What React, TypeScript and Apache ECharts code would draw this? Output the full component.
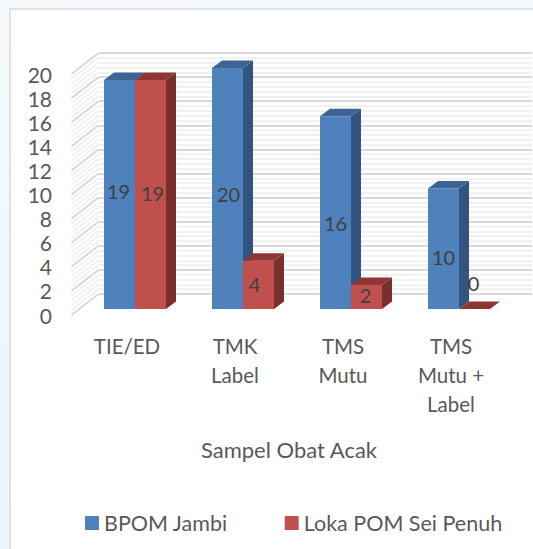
import React, { useEffect, useRef } from "react";
import * as echarts from "echarts";

const categories = ["TIE/ED", "TMK\nLabel", "TMS\nMutu", "TMS\nMutu +\nLabel"];
const bpomJambi = [19, 20, 16, 10];
const lokaPom = [19, 4, 2, 0];
const majorTicks = [0, 2, 4, 6, 8, 10, 12, 14, 16, 18, 20];

const FONT = "Lato, 'Open Sans', sans-serif";
const DEPTH_X = 10;
const DEPTH_Y = 7.5;
const WALL_X = 27;
const WALL_Y = 21;
const WALL_INSET = -1.5;
const BAR_W = 31;
const labelNudgeBlue = [[-1, -4], [1, 5], [0, 10], [0, 8]];
const labelNudgeRed = [[2, -2], [-4, -1], [-1, -2], [-1, -26]];

function barRenderer(seriesIndex: number, front: string, side: string, top: string, nudges: number[][]) {
  return (params: any, api: any) => {
    const i = api.value(0);
    const v = api.value(1);
    const [cx, y0] = api.coord([i, 0]);
    const [, y1] = api.coord([i, v]);
    const x0 = cx + (seriesIndex === 0 ? -BAR_W : 0);
    const x1 = x0 + BAR_W;
    const n = nudges[params.dataIndex];
    const children: any[] = [
      {
        type: "polygon",
        shape: { points: [[x1, y0], [x1 + DEPTH_X, y0 - DEPTH_Y], [x1 + DEPTH_X, y1 - DEPTH_Y], [x1, y1]] },
        style: { fill: side },
      },
      {
        type: "polygon",
        shape: { points: [[x0, y1], [x0 + DEPTH_X, y1 - DEPTH_Y], [x1 + DEPTH_X, y1 - DEPTH_Y], [x1, y1]] },
        style: { fill: top },
      },
      {
        type: "rect",
        shape: { x: x0, y: y1, width: BAR_W, height: y0 - y1 },
        style: { fill: front },
      },
      {
        type: "text",
        x: x0 + BAR_W / 2 + n[0],
        y: (y0 + y1) / 2 + n[1],
        style: {
          text: String(v),
          fill: "#404040",
          font: `20px ${FONT}`,
          align: "center",
          verticalAlign: "middle",
        },
      },
    ];
    return { type: "group", children };
  };
}

function leftWallRenderer(color: string, width: number) {
  return (_p: any, api: any) => {
    const [, y] = api.coord([0, api.value(0)]);
    const left = api.coord([0, 0])[0] - api.size([1, 0])[0] / 2 + WALL_INSET;
    return {
      type: "line",
      shape: { x1: left, y1: y, x2: left + WALL_X, y2: y - WALL_Y },
      style: { stroke: color, lineWidth: width },
    };
  };
}

const minorTicks: number[] = [];
majorTicks.slice(0, -1).forEach((t) => {
  [0.4, 0.8, 1.2, 1.6].forEach((d) => minorTicks.push(t + d));
});

const App: React.FC = () => {
  const ref = useRef<HTMLDivElement>(null);
  useEffect(() => {
    if (!ref.current) return;
    const chart = echarts.init(ref.current, undefined, { renderer: "svg" });
    const hiddenCat = {
      type: "category",
      data: categories,
      axisLine: { show: false },
      axisTick: { show: false },
      axisLabel: { show: false },
    };
    const hiddenVal = {
      type: "value",
      min: 0,
      max: 20,
      interval: 2,
      axisLine: { show: false },
      axisTick: { show: false },
      axisLabel: { show: false },
      splitLine: { show: false },
    };
    chart.setOption({
      animation: false,
      grid: [
        { left: 73, width: 432, top: 74, height: 241 },
        { left: 81, width: 432, top: 68, height: 241 },
        { left: 99, width: 433, top: 53, height: 241 },
      ],
      legend: {
        data: ["BPOM Jambi", "Loka POM Sei Penuh"],
        left: 80,
        top: 507,
        icon: "rect",
        itemWidth: 14,
        itemHeight: 14,
        itemGap: 57,
        textStyle: { fontFamily: FONT, fontSize: 21.5, color: "#595959" },
      },
      xAxis: [
        {
          type: "category",
          gridIndex: 0,
          data: categories,
          axisLine: { show: false },
          axisTick: { show: false },
          axisLabel: {
            margin: 16,
            interval: 0,
            fontFamily: FONT,
            fontSize: 20.5,
            lineHeight: 29,
            color: "#595959",
          },
          name: "Sampel Obat Acak",
          nameLocation: "middle",
          nameGap: 123,
          nameTextStyle: { fontFamily: FONT, fontSize: 22, color: "#595959" },
        },
        { ...hiddenCat, gridIndex: 1 },
        { ...hiddenCat, gridIndex: 2 },
      ],
      yAxis: [
        {
          type: "value",
          gridIndex: 0,
          min: 0,
          max: 20,
          interval: 2,
          axisLine: { show: false },
          axisTick: { show: false },
          splitLine: { show: false },
          axisLabel: { margin: 21, fontFamily: FONT, fontSize: 21, color: "#595959" },
        },
        { ...hiddenVal, gridIndex: 1 },
        {
          ...hiddenVal,
          gridIndex: 2,
          splitLine: { show: true, lineStyle: { color: "#d9d9d9", width: 2 } },
          minorTick: { show: false, splitNumber: 5 },
          minorSplitLine: { show: true, lineStyle: { color: "#f1f1f1", width: 2 } },
        },
      ],
      series: [
        {
          type: "custom",
          name: "wall-minor",
          xAxisIndex: 0,
          yAxisIndex: 0,
          clip: false,
          silent: true,
          z: 1,
          data: minorTicks.map((t) => [t]),
          encode: { y: 0 },
          renderItem: leftWallRenderer("#f1f1f1", 2),
        },
        {
          type: "custom",
          name: "wall-major",
          xAxisIndex: 0,
          yAxisIndex: 0,
          clip: false,
          silent: true,
          z: 1,
          data: majorTicks.map((t) => [t]),
          encode: { y: 0 },
          renderItem: leftWallRenderer("#d9d9d9", 2),
        },
        {
          type: "custom",
          name: "BPOM Jambi",
          xAxisIndex: 1,
          yAxisIndex: 1,
          clip: false,
          z: 3,
          itemStyle: { color: "#4f81bd" },
          data: bpomJambi.map((v, i) => [i, v]),
          encode: { x: 0, y: 1 },
          renderItem: barRenderer(0, "#4f81bd", "#32547e", "#3d6593", labelNudgeBlue),
        },
        {
          type: "custom",
          name: "Loka POM Sei Penuh",
          xAxisIndex: 1,
          yAxisIndex: 1,
          clip: false,
          z: 4,
          itemStyle: { color: "#c0504d" },
          data: lokaPom.map((v, i) => [i, v]),
          encode: { x: 0, y: 1 },
          renderItem: barRenderer(1, "#c0504d", "#7a2f2d", "#8c3735", labelNudgeRed),
        },
      ],
    });
    return () => chart.dispose();
  }, []);

  return (
    <div
      style={{
        position: "fixed",
        left: 0,
        top: 0,
        width: 533,
        height: 549,
        overflow: "hidden",
        background: "linear-gradient(160deg, #f6fafd 0%, #e6f2fa 100%)",
      }}
    >
      <div
        style={{
          position: "absolute",
          left: 9,
          top: 8,
          width: 524,
          height: 541,
          background: "#ffffff",
          borderLeft: "2px solid #e2e2e2",
          borderTop: "2px solid #e2e2e2",
          boxSizing: "border-box",
        }}
      />
      <div ref={ref} style={{ position: "absolute", left: 0, top: 0, width: 533, height: 549 }} />
    </div>
  );
};

export default App;
